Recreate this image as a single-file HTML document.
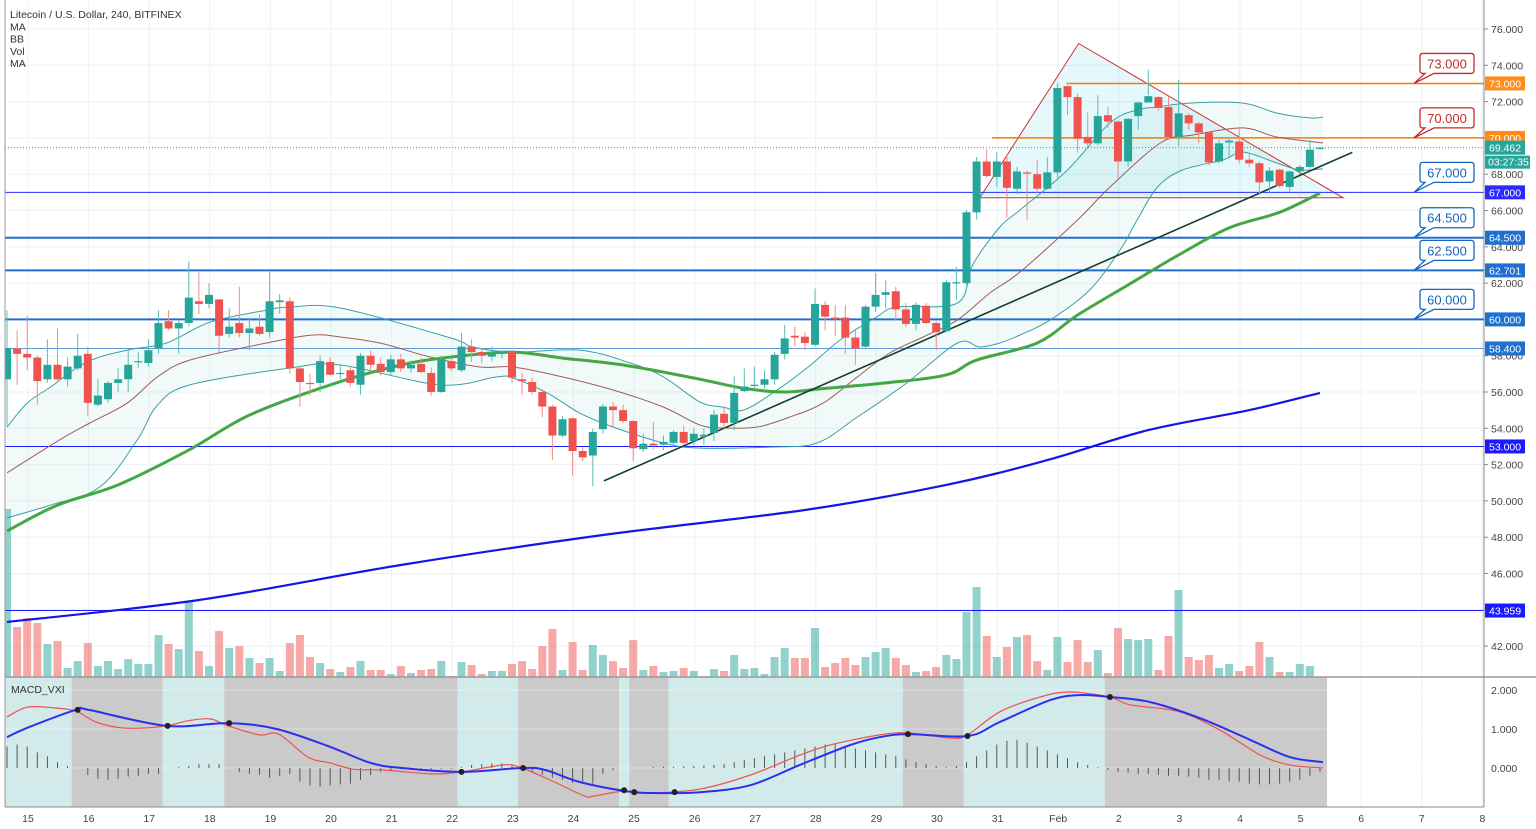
<!DOCTYPE html>
<html><head><meta charset="utf-8"><title>LTCUSD chart</title>
<style>
html,body{margin:0;padding:0;background:#fff;}
#wrap{position:relative;width:1536px;height:829px;overflow:hidden;font-family:"Liberation Sans",sans-serif;}
svg text{font-family:"Liberation Sans",sans-serif;}
</style></head>
<body>
<div id="wrap">
<svg id="chart" width="1536" height="829" viewBox="0 0 1536 829">
<defs><clipPath id="mainclip"><rect x="5" y="0" width="1479" height="677"/></clipPath>
<clipPath id="macdclip"><rect x="5" y="677" width="1479" height="130"/></clipPath></defs>
</svg>
</div>
<script>
// ---------- data ----------
const openP=[56.7,58.4,58.1,57.9,56.7,57.5,56.7,57.3,58.1,55.3,
55.6,56.5,56.7,57.65,57.6,58.4,59.9,59.5,59.8,61.0,
60.85,61.1,59.2,59.8,59.25,59.6,59.3,60.95,61.0,57.3,
56.5,56.5,57.65,57.0,57.2,56.4,58.0,57.55,57.1,57.8,
57.3,57.55,57.05,56.0,57.7,57.2,58.5,58.2,57.95,58.1,
58.2,56.7,56.55,56.0,55.2,53.6,54.55,52.75,52.5,53.95,
55.2,55.0,54.4,52.85,53.15,53.1,53.2,53.8,53.3,53.55,
53.75,54.8,54.3,56.05,56.35,56.4,56.7,58.1,59.1,59.05,
58.6,60.8,60.1,60.1,59.0,58.5,60.7,61.35,61.55,60.55,
59.75,60.75,59.8,59.35,62.0,62.0,65.9,68.7,67.85,68.7,
67.2,68.1,68.0,67.2,68.1,72.85,72.25,70.05,69.7,71.25,
70.9,68.7,71.2,71.95,72.25,71.7,70.05,71.25,70.8,70.3,
68.7,69.75,69.8,68.8,68.6,67.6,68.25,67.3,68.15,68.4,
69.4];
const closeP=[58.4,58.1,57.9,56.6,57.5,56.7,57.4,58.0,55.4,55.8,
56.5,56.7,57.5,57.7,58.3,59.8,59.5,59.8,61.2,60.85,
61.35,59.1,59.6,59.25,59.5,59.2,61.0,61.05,57.3,56.55,
56.45,57.7,56.95,57.05,56.5,58.0,57.5,57.1,57.8,57.3,
57.5,57.1,56.0,57.8,57.3,58.5,58.2,58.0,58.15,58.2,
56.8,56.6,56.0,55.2,53.6,54.5,52.75,52.4,53.8,55.2,
55.0,54.4,52.9,53.15,53.05,53.25,53.8,53.2,53.7,53.65,
54.75,54.3,55.95,56.3,56.4,56.7,58.05,58.95,59.0,58.7,
60.85,60.15,60.05,59.0,58.4,60.7,61.35,61.5,60.55,59.75,
60.8,59.8,59.3,62.05,62.05,65.9,68.7,67.9,68.7,67.25,
68.15,68.05,67.2,68.1,72.75,72.25,69.95,69.7,71.2,70.9,
68.7,71.05,71.95,72.3,71.65,70.05,71.35,70.8,70.3,68.65,
69.7,69.85,68.8,68.6,67.55,68.2,67.35,68.15,68.4,69.35,
69.46];
const highP=[60.5,59.4,60.2,58.0,58.9,59.5,57.9,59.2,58.5,56.7,
56.6,57.3,58.4,58.2,58.9,60.5,60.5,59.95,63.2,62.6,
62.0,61.1,60.6,61.8,60.1,60.3,62.6,61.4,61.2,57.4,
57.0,58.0,57.9,57.5,57.4,58.15,58.3,57.9,58.05,58.1,
57.75,57.9,57.35,58.0,57.9,59.25,58.9,58.4,58.5,58.3,
58.3,57.05,56.8,56.15,55.3,54.7,54.6,52.95,54.0,55.35,
55.45,55.3,54.45,53.7,54.35,53.6,53.9,54.15,54.0,54.0,
55.0,55.2,56.85,57.3,57.4,57.2,58.2,59.7,59.6,59.3,
61.7,61.0,60.8,60.8,59.4,60.8,62.55,62.15,61.8,60.9,
60.95,60.9,59.9,62.2,62.9,66.05,68.95,69.35,69.2,69.1,
68.4,68.2,68.8,68.95,73.0,72.9,72.45,71.4,72.35,71.7,
70.95,71.1,72.0,73.75,72.3,72.25,73.2,71.35,70.9,70.35,
69.9,69.95,70.6,69.15,68.7,68.4,68.3,68.2,68.5,69.9,
69.5];
const lowP=[54.1,56.4,57.2,55.3,56.5,56.6,56.3,57.2,54.7,55.2,
55.4,56.0,56.0,57.3,57.4,58.1,59.4,58.1,59.6,60.3,
60.6,58.1,59.0,59.0,58.3,59.1,59.0,60.3,57.0,55.2,
55.8,56.0,56.9,56.7,56.3,55.85,57.1,56.9,56.9,57.1,
57.05,57.05,55.8,55.95,57.15,57.1,57.65,57.6,57.7,57.85,
56.5,55.85,55.85,54.6,52.25,53.5,51.4,52.2,50.8,53.7,
54.0,54.3,52.2,52.7,52.85,52.8,52.95,53.1,53.1,53.1,
53.3,54.0,53.9,56.0,56.2,56.2,56.4,57.8,58.5,58.3,
58.5,59.4,59.1,58.1,57.5,58.4,60.4,60.6,59.95,59.6,
59.4,59.75,58.3,59.3,61.05,61.9,65.5,67.8,67.3,65.6,
66.9,65.5,66.95,67.15,67.8,71.25,69.2,69.5,69.6,70.55,
67.8,68.4,70.45,72.35,71.5,69.9,69.55,70.45,69.7,68.5,
68.6,68.95,68.6,68.4,66.85,66.95,67.25,67.0,68.0,68.3,
69.35];
const volume=[168,50,59,54,33,36,9,16,34,11,
16,8,18,13,13,42,33,28,75,26,
11,46,29,31,19,14,19,6,34,42,
20,14,8,5,10,16,7,7,3,11,
4,7,8,16,1,15,12,3,6,6,
13,16,8,31,48,7,35,7,32,22,
16,9,37,7,11,5,6,9,6,1,
8,6,22,8,9,3,20,29,19,19,
49,10,14,19,12,20,25,29,19,12,
5,6,10,22,18,65,90,41,20,30,
40,42,16,7,40,15,37,15,27,4,
49,38,37,38,7,41,87,20,17,22,
9,13,6,11,35,20,5,5,13,11,
0];
const macdHist=[0.55,0.6,0.55,0.4,0.3,0.15,0.05,0,-0.18,-0.28,
-0.3,-0.28,-0.22,-0.2,-0.15,-0.15,0,0.02,0.05,0.1,
0.1,0.1,0,-0.1,-0.15,-0.18,-0.25,-0.2,-0.15,-0.35,
-0.45,-0.48,-0.45,-0.42,-0.4,-0.3,-0.18,-0.1,-0.05,-0.03,
-0.03,-0.03,-0.03,-0.02,-0.02,0.02,0.08,0.1,0.12,0.12,
0.08,0,-0.1,-0.18,-0.25,-0.3,-0.38,-0.4,-0.4,-0.15,
-0.05,0,0,0,0.02,0.03,0.03,0.04,0.05,0.06,
0.08,0.1,0.15,0.2,0.25,0.3,0.35,0.4,0.45,0.5,
0.55,0.6,0.62,0.55,0.5,0.45,0.4,0.35,0.3,0.22,
0.15,0.1,0.05,0.02,0.05,0.15,0.3,0.45,0.6,0.7,
0.72,0.65,0.55,0.45,0.35,0.25,0.15,0.08,0.02,-0.05,
-0.1,-0.12,-0.15,-0.15,-0.18,-0.2,-0.2,-0.22,-0.25,-0.3,
-0.3,-0.35,-0.35,-0.4,-0.42,-0.42,-0.4,-0.35,-0.3,-0.2,
-0.1];
const bbUpperIdx=[0,2,4.3,7.9,11.9,15.8,20.1,25.7,28,33,43.9,46.1,50.1,56.7,61.7,65,68.6,70.9,72.9,75.8,79.2,82.5,86.1,88.1,94.1,95.6,98.3,100.3,105,109.2,111.9,113.9,117.1,122.4,125.7,129,130.3];
const bbUpper=[54.07,55.39,56.27,57.65,58.31,58.7,59.85,60.51,60.68,60.63,58.98,58.48,58.2,58.31,57.6,56.83,55.45,55.17,55.0,55.94,57.32,58.87,60.13,60.68,60.9,63.0,65.09,66.03,68.23,70.82,71.54,71.7,71.92,71.92,71.37,71.1,71.15];
const bbLowerIdx=[0,4.3,9.2,12.9,14.9,18.1,28,33,42.9,48.5,50.1,53.5,56.7,60,65,68.6,75.8,80.2,84.2,89.1,94.1,96.3,98.3,100.3,103.3,107.2,110.2,111.9,113.9,116.4,120.4,122.4,125.7,128,130.3];
const bbLower=[49.06,49.77,50.77,53.36,55.28,56.39,57.32,57.49,56.39,56.83,56.77,55.94,54.84,54.07,53.19,52.91,52.97,53.19,54.62,56.5,58.7,58.48,58.7,59.14,59.97,61.62,63.82,65.48,67.29,68.23,68.78,69.22,68.62,68.23,68.29];
const bbBasisIdx=[0,5.2,8.2,11.9,14.9,18.1,25.7,30.3,33,36.9,41.9,46.8,50.1,55,60,65,68.6,70.9,74.3,77.5,80.8,84.2,87.4,90.7,94.1,97.3,100.3,106,109.2,114.2,117.4,122.4,125.7,130.3];
const bbBasis=[51.54,53.36,54.29,55.39,56.83,57.76,58.7,59.14,59.03,58.7,57.93,57.38,57.38,56.83,56.11,55.17,54.18,54.02,54.07,54.62,55.39,56.83,58.15,59.03,59.97,61.45,62.61,65.48,67.29,69.72,70.16,70.55,70.05,69.72];
const maGreenIdx=[0,5,11,18,24,32,39,44,50,55,61,68,73,77,81,87,93,96,102,106,111,116,121,126,130];
const maGreen=[48.34,49.77,50.88,52.8,54.73,56.39,57.49,57.93,58.2,57.87,57.49,56.77,56.2,56.0,56.2,56.5,56.94,57.76,58.7,60.24,61.9,63.55,65.04,65.9,66.96];
const maBlueIdx=[0,19,39,59,79,93,103,113,123,130];
const maBlue=[43.33,44.54,46.47,48.12,49.5,50.88,52.25,53.9,55.0,55.95];
const macdIdx=[0,2,4.7,6.8,8.8,11.3,13.9,16.1,17.9,20.1,21.9,25,26.9,29.8,32,34.3,37.3,42,45,49.2,51,54.2,57.2,58.1,61.2,63.9,68.6,73.6,78.5,81.5,86.4,89.2,93.4,95.1,98.3,102.3,105.2,109.2,111.2,116.1,120.1,124.1,127,130.3];
const macdLine=[1.31,1.56,1.54,1.46,1.18,1.03,1.03,1.1,1.21,1.26,1.08,0.85,0.87,0.28,0.13,-0.03,-0.05,-0.15,-0.1,0.08,0,-0.36,-0.72,-0.72,-0.59,-0.64,-0.54,-0.18,0.33,0.59,0.85,0.9,0.77,0.85,1.44,1.82,1.95,1.82,1.62,1.44,0.97,0.33,0.08,0];
const signalIdx=[0,2,6.8,8.1,15.8,21.9,26.7,32,36,39.1,45,51,53.3,56.7,61.2,63.9,68.6,73.6,78.5,83.5,86.4,89.2,95.1,98.3,103.3,106.2,109.2,113.2,118.1,123.1,127,130.3];
const signalLine=[0.79,1.03,1.49,1.49,1.08,1.15,1.0,0.54,0.13,0,-0.1,0,-0.05,-0.36,-0.59,-0.64,-0.62,-0.44,0.08,0.59,0.79,0.87,0.82,1.18,1.74,1.87,1.82,1.69,1.28,0.72,0.28,0.15];
const crossIdx=[7.0,15.9,22.0,45.0,51.1,61.1,62.1,66.1,89.2,95.1,109.2];
const crossVal=[1.49,1.08,1.15,-0.1,0,-0.57,-0.62,-0.62,0.87,0.82,1.82];
const shadeEdges=[-0.3,6.4,15.4,21.5,44.6,50.6,60.6,61.6,65.5,88.7,94.7,108.7,130.7];
const levelPrices=[67,64.5,62.7,60,58.4,53,43.959];
const levelLabels=['67.000','64.500','62.701','60.000','58.400','53.000','43.959'];
const resistPrices=[73,70];
const resistLabels=['73.000','70.000'];
const resistStartIdx=[104.9,97.5];
const calloutPrices=[73,70,67,64.5,62.7,60];
const calloutTexts=['73.000','70.000','67.000','64.500','62.500','60.000'];
const lastPrice=69.462;
const priceTicks=[76,74,72,70,68,66,64,62,60,58,56,54,52,50,48,46,44,42];
const macdTicks=[2,1,0];
const macdTickLabels=['2.000','1.000','0.000'];
const dayLabels=['15','16','17','18','19','20','21','22','23','24','25','26','27','28','29','30','31','Feb','2','3','4','5','6','7','8'];
const triIdx=[96.2,106.1,132.3,96.2];
const triPrice=[66.6,75.2,66.7,66.7];
const trendIdx=[59.1,133.2];
const trendPrice=[51.1,69.2];

// ---------- helpers ----------
const NS='http://www.w3.org/2000/svg';
const svg=document.getElementById('chart');
function mk(tag,attrs,parent){const e=document.createElementNS(NS,tag);for(const k in attrs)e.setAttribute(k,attrs[k]);(parent||svg).appendChild(e);return e;}
function xOf(i){return 7+i*10.1;}
function yOf(p){return 29+(76-p)*18.15;}
function yVol(v){return 677-v;}
function yMacd(v){return 768-v*39;}
function xDay(k){return xOf(2.08+6*k);}
function pts(idx,vals,yf){return idx.map((i,k)=>xOf(i).toFixed(1)+','+yf(vals[k]).toFixed(1)).join(' ');}
function smooth(idx,vals,yf){
 const P=idx.map((i,k)=>[xOf(i),yf(vals[k])]);
 let d='M'+P[0][0].toFixed(1)+','+P[0][1].toFixed(1);
 for(let k=0;k<P.length-1;k++){
  const p0=P[Math.max(0,k-1)],p1=P[k],p2=P[k+1],p3=P[Math.min(P.length-1,k+2)];
  const c1=[p1[0]+(p2[0]-p0[0])/6,p1[1]+(p2[1]-p0[1])/6];
  const c2=[p2[0]-(p3[0]-p1[0])/6,p2[1]-(p3[1]-p1[1])/6];
  d+=' C'+c1[0].toFixed(1)+','+c1[1].toFixed(1)+' '+c2[0].toFixed(1)+','+c2[1].toFixed(1)+' '+p2[0].toFixed(1)+','+p2[1].toFixed(1);
 }
 return d;}

// ---------- background / grid ----------
const bg=mk('rect',{x:0,y:0,width:1536,height:829,fill:'#ffffff'});


const gridG=mk('g',{stroke:'#edf1f5','stroke-width':1});


dayLabels.forEach((d,k)=>{const l=mk('line',{x1:xDay(k),x2:xDay(k),y1:0,y2:807},gridG);

});
priceTicks.forEach(p=>{const l=mk('line',{x1:5,x2:1484,y1:yOf(p),y2:yOf(p)},gridG);

});

// ---------- MACD ----------
const macdG=mk('g',{'clip-path':'url(#macdclip)'});


for(let k=0;k<shadeEdges.length-1;k++){
 const x1=xOf(shadeEdges[k]),x2=xOf(shadeEdges[k+1]);
 const r=mk('rect',{x:x1,y:677,width:x2-x1,height:130,fill:(k%2===0)?'#d2eaea':'#cacaca'},macdG);
 
 
}
macdTicks.forEach(v=>{const l=mk('line',{x1:5,x2:1484,y1:yMacd(v),y2:yMacd(v),stroke:'rgba(255,255,255,0.35)'},macdG);

});
macdHist.forEach((v,i)=>{const l=mk('line',{x1:xOf(i),x2:xOf(i),y1:yMacd(0),y2:yMacd(v),stroke:'#555','stroke-width':1},macdG);

});
const mRed=mk('path',{d:smooth(macdIdx,macdLine,yMacd),fill:'none',stroke:'#ef5350','stroke-width':1.2},macdG);


const mBlue=mk('path',{d:smooth(signalIdx,signalLine,yMacd),fill:'none',stroke:'#2e2ef0','stroke-width':2},macdG);


crossIdx.forEach((i,k)=>{const c=mk('circle',{cx:xOf(i),cy:yMacd(crossVal[k]),r:3,fill:'#222'},macdG);

});

// ---------- main pane ----------
const mainG=mk('g',{'clip-path':'url(#mainclip)'});


const bbFillPts=bbUpperIdx.map((i,k)=>xOf(i)+','+yOf(bbUpper[k])).concat(bbLowerIdx.slice().reverse().map((i,k)=>{const j=bbLowerIdx.length-1-k;return xOf(bbLowerIdx[j])+','+yOf(bbLower[j]);})).join(' ');
const bbFill=mk('polygon',{points:bbFillPts,fill:'rgba(38,166,154,0.06)'},mainG);


volume.forEach((v,i)=>{const up=closeP[i]>=openP[i];
 const r=mk('rect',{x:xOf(i)-4,y:yVol(v),width:8,height:v,fill:up?'rgba(38,166,154,0.5)':'rgba(239,83,80,0.5)'},mainG);
 
 });
const tri=mk('polygon',{points:pts(triIdx,triPrice,yOf),fill:'rgba(0,188,212,0.1)',stroke:'#d32f2f','stroke-width':1},mainG);


const levelColors=['#2a2aff','#1e6fd0','#1e6fd0','#1e6fd0','#5e9be0','#1a1aff','#1a1aff'];
const levelWidths=[1,2,2,2,1,1,1];
levelPrices.forEach((p,k)=>{const l=mk('line',{x1:5,x2:1484,y1:yOf(p),y2:yOf(p),stroke:levelColors[k],'stroke-width':levelWidths[k]},mainG);

});
resistPrices.forEach((p,k)=>{const l=mk('line',{x1:xOf(resistStartIdx[k]),x2:1484,y1:yOf(p),y2:yOf(p),stroke:'#f57c00','stroke-width':1.5},mainG);

});
const lastL=mk('line',{x1:5,x2:1484,y1:yOf(lastPrice),y2:yOf(lastPrice),stroke:'#26a69a','stroke-width':1,'stroke-dasharray':'1,2'},mainG);


const bbU=mk('path',{d:smooth(bbUpperIdx,bbUpper,yOf),fill:'none',stroke:'#3aa0a0','stroke-width':1},mainG);


const bbL=mk('path',{d:smooth(bbLowerIdx,bbLower,yOf),fill:'none',stroke:'#3aa0a0','stroke-width':1},mainG);


const bbB=mk('path',{d:smooth(bbBasisIdx,bbBasis,yOf),fill:'none',stroke:'#a05a5a','stroke-width':1},mainG);


const maG=mk('path',{d:smooth(maGreenIdx,maGreen,yOf),fill:'none',stroke:'#43a843','stroke-width':3},mainG);


const maB=mk('path',{d:smooth(maBlueIdx,maBlue,yOf),fill:'none',stroke:'#1414e6','stroke-width':2.2},mainG);


const tl=mk('polyline',{points:pts(trendIdx,trendPrice,yOf),fill:'none',stroke:'#123f30','stroke-width':1.6},mainG);


openP.forEach((o,i)=>{const c=closeP[i];const up=c>=o;const col=up?'#26a69a':'#ef5350';
 const w=mk('line',{x1:xOf(i),x2:xOf(i),y1:yOf(highP[i]),y2:yOf(lowP[i]),stroke:up?'#5cbdb4':'#f28a88','stroke-width':1},mainG);
 
 
 const top=yOf(Math.max(o,c)),bot=yOf(Math.min(o,c));
 const b=mk('rect',{x:xOf(i)-4,y:top,width:8,height:Math.max(1.2,bot-top),fill:col},mainG);
 
 });
calloutPrices.forEach((p,k)=>{const y=yOf(p);const top=y-30,bot=y-10;const red=k<2;const col=red?'#c62828':'#1565c0';
 const g=mk('g',{});
 
 
 mk('path',{d:`M1423,${top} H1471 Q1474,${top} 1474,${top+3} V${bot-3} Q1474,${bot} 1471,${bot} H1434 L1414,${y} L1425,${bot} H1423 Q1420,${bot} 1420,${bot-3} V${top+3} Q1420,${top} 1423,${top} Z`,fill:'#fff',stroke:col,'stroke-width':1.3},g);
 const t=mk('text',{x:1447,y:top+15,'text-anchor':'middle','font-size':13,fill:col},g);
 t.textContent=calloutTexts[k];});

// ---------- axes ----------
const sep=mk('line',{x1:1484,x2:1484,y1:0,y2:807,stroke:'#888','stroke-width':1});


const pane=mk('line',{x1:5,x2:1536,y1:677,y2:677,stroke:'#999','stroke-width':1.5});


const bottom=mk('line',{x1:5,x2:1484,y1:807,y2:807,stroke:'#888','stroke-width':1});


const leftB=mk('line',{x1:5,x2:5,y1:0,y2:807,stroke:'#999','stroke-width':1});


priceTicks.forEach(p=>{const y=yOf(p);
 const tk=mk('line',{x1:1484,x2:1488,y1:y,y2:y,stroke:'#888'});
 
 
 const t=mk('text',{x:1491,y:y+4,'font-size':10.5,fill:'#444'});
 
 
 t.textContent=p.toFixed(3);});
macdTicks.forEach((v,k)=>{const y=yMacd(v);
 const t=mk('text',{x:1491,y:y+4,'font-size':10.5,fill:'#444'});
 
 
 t.textContent=macdTickLabels[k];});
dayLabels.forEach((d,k)=>{const t=mk('text',{x:xDay(k),y:822,'font-size':10.5,fill:'#444','text-anchor':'middle'});
 
 
 t.textContent=d;});
function tag(p,label,color,name){const y=yOf(p);
 const g=mk('g',{});
 
 
 mk('rect',{x:1485,y:y-7,width:40,height:14,fill:color},g);
 const t=mk('text',{x:1489,y:y+4,'font-size':10.5,fill:'#fff'},g);
 t.textContent=label;}
resistPrices.forEach((p,k)=>tag(p,resistLabels[k],'#ff8c1a','tag-'+resistLabels[k]));
levelPrices.forEach((p,k)=>tag(p,levelLabels[k],levelColors[k]==='#5e9be0'?'#1e6fd0':levelColors[k],'tag-'+levelLabels[k]));
tag(lastPrice,lastPrice.toFixed(3),'#26a69a','tag-last-price');
const cd=mk('g',{});


mk('rect',{x:1485,y:yOf(lastPrice)+8,width:45,height:13,fill:'#26a69a'},cd);
const cdt=mk('text',{x:1488,y:yOf(lastPrice)+18,'font-size':10.5,fill:'#fff'},cd);
cdt.textContent='03:27:35';

const legend=['Litecoin / U.S. Dollar, 240, BITFINEX','MA','BB','Vol','MA'];
legend.forEach((s,k)=>{const t=mk('text',{x:10,y:18+k*12.3,'font-size':10.5,fill:'#333'});
 
 
 t.textContent=s;});
const ml=mk('text',{x:11,y:693,'font-size':10.5,fill:'#333'});


ml.textContent='MACD_VXI';
</script>
</body></html>
